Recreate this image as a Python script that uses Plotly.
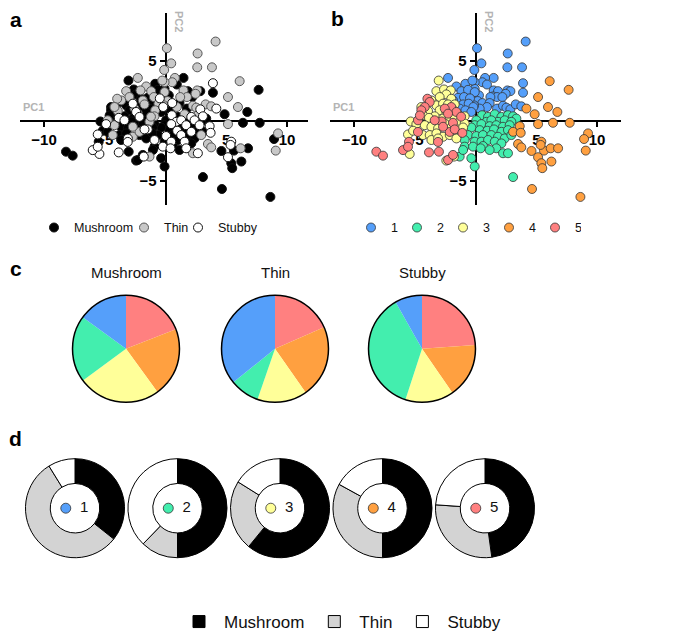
import plotly.graph_objects as go

# ---------------- scatter data (PCA scores) per cluster ----------------
c1_pc1 = [4.12, 0.11, 2.64, 0.47, 2.61, 3.82, -0.11, 3.90, 1.48, 0.77, 0.55, 0.93, -0.08, 3.90, 1.48, 1.84, 2.61, 2.86,
          2.47, 1.43, 1.76, 2.20, 1.21, 0.27, 0.16, 0.55, 1.15, 0.93, 0.33, 1.76, 2.25, 2.53, 2.86, 3.30, 3.76, -0.08,
          -0.14, -2.28, -1.59, -0.85, -0.27, -1.18, -0.63, -0.08, -1.46, -0.96, -0.47, -1.87, -1.04, -0.58, -0.19,
          -1.32, -0.85, -0.36]
c1_pc2 = [6.59, 6.04, 5.60, 4.78, 4.45, 4.45, 4.23, 3.13, 3.57, 3.57, 3.21, 3.02, 3.21, 2.34, 2.53, 2.47, 2.53, 2.47,
          2.25, 2.03, 1.98, 1.98, 1.98, 2.12, 1.65, 1.48, 1.48, 1.15, 1.02, 1.02, 1.26, 1.10, 0.96, 1.37, 1.21, 2.66,
          1.29, 3.57, 2.86, 3.08, 3.35, 2.47, 2.58, 2.39, 1.92, 1.98, 1.87, 1.70, 1.37, 1.43, 1.15, 1.02, 0.88, 0.74]
c1_type = list("TTTTTTT" "SM" "TT" "MTMTMTMTMTMTMT" "SMTMMTTSTTMTTTMTTMTMTSTMTSMTM")

c2_pc1 = [0.52, 1.02, 1.57, 2.12, 2.66, 3.08, 3.35, 0.05, 0.88, 1.84, 2.39, 2.94, 1.29, -0.08, 0.47, 1.15, 1.70, 2.25,
          2.80, 0.33, 0.96, 1.51, 2.12, 2.66, -0.36, -0.63, 0.05, 0.60, 1.29, 1.84, 2.39, 2.94, -0.08, 0.47, 1.02,
          1.57, 2.12, -0.91, -0.91, -0.22, 0.60, 1.70, 2.25, 2.66, -1.32, -1.04, 0.41, 1.15, -0.36, -0.08, 3.08]
c2_pc2 = [0.47, 0.33, 0.55, 0.33, 0.47, 0.38, 0.19, 0.05, -0.08, -0.08, 0.05, -0.08, 0.05, -0.36, -0.27, -0.44, -0.36,
          -0.49, -0.36, -0.77, -0.82, -0.71, -0.91, -0.77, -0.55, -1.18, -1.26, -1.18, -1.18, -1.32, -1.46, -1.18,
          -1.73, -1.73, -1.59, -1.73, -1.87, -1.59, -2.14, -2.14, -2.09, -2.28, -2.69, -2.69, -2.97, -2.42, -2.28,
          -2.42, -3.10, -3.79, -4.67]
c2_type = list("SMTSTSM" "MSMSMSMSMSMSMSMSM" "MMSMSMM" "TMSMSMSMSMSTS" "TMSMMMM")

c3_pc1 = [-3.05, -3.24, -2.61, -2.06, -2.42, -2.97, -2.01, -3.65, -3.24, -2.69, -2.28, -1.73, -4.48, -3.93, -2.97,
          -2.42, -1.87, -1.46, -0.91, -5.36, -3.38, -4.34, -3.85, -2.69, -2.14, -1.73, -1.32, -0.91, -4.89, -4.20,
          -3.65, -3.10, -2.55, -2.01, -1.46, -1.04, -5.58, -5.16, -4.34, -3.79, -3.24, -2.69, -2.14, -1.59, -3.65,
          -3.10, -5.44, -2.42, -1.79]
c3_pc2 = [3.35, 2.47, 2.61, 2.53, 2.20, 1.98, 1.84, 1.70, 1.29, 1.43, 1.37, 1.37, 1.15, 0.82, 0.88, 0.74, 0.93, 0.55,
          0.38, -0.05, 0.38, 0.47, 0.25, 0.19, 0.33, 0.19, -0.08, -0.22, -0.27, -0.36, -0.49, -0.63, -0.22, -0.55,
          -0.71, -0.55, -1.13, -0.82, -1.18, -1.18, -1.04, -1.32, -1.18, -1.46, -1.59, -1.46, -2.75, -3.30, -2.97]
c3_type = list("MTMTMTMTMS" "MTMTMSMMTM" "MMSMSMTMST" "MMMMSMSMTM" "MTMMMSSMS")

c4_pc1 = [6.10, 7.66, 5.14, 5.96, 4.18, 4.86, 6.73, 5.14, 6.37, 7.75, 3.63, 3.08, 3.71, 9.26, 8.93, 9.07, 3.49, 3.76,
          5.41, 5.63, 6.18, 6.79, 5.14, 5.41, 6.24, 5.49, 4.64, 8.63, 4.60, 5.35]
c4_pc2 = [3.30, 2.58, 1.98, 1.15, 1.02, 0.55, 0.74, -0.27, -0.16, -0.16, -0.44, -0.91, -0.99, -1.04, -1.51, -2.47,
          -1.92, -2.20, -1.73, -2.47, -2.28, -2.28, -3.02, -3.52, -3.38, -3.93, -5.66, -6.32, -2.50, -2.00]
c4_type = list("TMTTSMMTMM" "SMSTMTTTSM" "TMSMMMMMMS")

c5_pc1 = [-8.19, -7.64, -5.99, -5.50, -5.58, -4.76, -3.11, -3.85, -3.03, -2.28, -2.14, -2.80, -4.76, -3.98, -3.79,
          -4.20, -2.01, -2.55, -1.59, -4.48, -2.28, -3.38, -1.87, -2.69, -1.73, -1.87, -4.60, -1.20, -1.10]
c5_pc2 = [-2.56, -2.89, -2.43, -1.74, -2.15, -0.92, -1.75, -2.62, -2.56, -3.25, -0.92, -0.05, 0.05, 1.84, 1.57, 1.15,
          1.15, 1.02, 0.74, 0.88, 0.60, 0.05, -0.16, -0.49, -0.71, -2.83, 0.45, 0.35, -1.00]
c5_type = list("MMSMSMSSMM" "TMTTMTMTMM" "TSMTSMMTM")

clusters = ["1", "2", "3", "4", "5"]
cluster_pc1 = [c1_pc1, c2_pc1, c3_pc1, c4_pc1, c5_pc1]
cluster_pc2 = [c1_pc2, c2_pc2, c3_pc2, c4_pc2, c5_pc2]
cluster_type = [c1_type, c2_type, c3_type, c4_type, c5_type]
for a, b, c in zip(cluster_pc1, cluster_pc2, cluster_type):
    assert len(a) == len(b) == len(c), (len(a), len(b), len(c))

cluster_colors = ["#559FFA", "#43EEAE", "#FFFF99", "#FFA040", "#FF8080"]
spine_names = ["Mushroom", "Thin", "Stubby"]
spine_codes = ["M", "T", "S"]
spine_colors = ["#000000", "#C8C8C8", "#FFFFFF"]

# ---------------- pie data (c): share of each cluster, order 5,4,3,2,1 clockwise ----------------
pie_labels = ["5", "4", "3", "2", "1"]
pie_colors = ["#FF8080", "#FFA040", "#FFFF99", "#43EEAE", "#559FFA"]
pie_mushroom = [19.1, 20.9, 24.9, 20.1, 15.0]
pie_thin = [18.4, 21.9, 15.0, 8.9, 35.8]
pie_stubby = [23.9, 16.5, 14.6, 36.8, 8.2]
pie_titles = ["Mushroom", "Thin", "Stubby"]

# ---------------- donut data (d): spine type share per cluster ----------------
donut_labels = ["Mushroom", "Thin", "Stubby"]
donut_colors = ["#000000", "#D3D3D3", "#FFFFFF"]
donut_c1 = [35.7, 55.5, 8.8]
donut_c2 = [50.0, 12.2, 37.8]
donut_c3 = [60.9, 23.0, 16.1]
donut_c4 = [50.0, 33.0, 17.0]
donut_c5 = [47.8, 28.3, 23.9]

# ---------------- helpers ----------------
W, H = 685, 632
FONT = "Liberation Sans, Arial, sans-serif"


def px(x):
    return x / W


def py(y):
    return 1 - y / H


fig = go.Figure()

# panel a
all_pc1 = sum(cluster_pc1, [])
all_pc2 = sum(cluster_pc2, [])
all_type = sum(cluster_type, [])
legend_a_widths = [45, 9, 0]
for name, code, col, lw in zip(spine_names, spine_codes, spine_colors, legend_a_widths):
    xs = [x for x, t in zip(all_pc1, all_type) if t == code]
    ys = [y for y, t in zip(all_pc2, all_type) if t == code]
    fig.add_trace(go.Scatter(
        x=xs, y=ys, mode="markers", name=name, legend="legend", legendwidth=lw,
        marker=dict(size=9, color=col, line=dict(color="#111111" if code != "T" else "#555555", width=1)),
        xaxis="x", yaxis="y", cliponaxis=False))

# panel b
for name, xs, ys, col in zip(clusters, cluster_pc1, cluster_pc2, cluster_colors):
    fig.add_trace(go.Scatter(
        x=xs, y=ys, mode="markers", name=name, legend="legend2", legendwidth=1,
        marker=dict(size=9, color=col, line=dict(color="#333333", width=0.8)),
        xaxis="x2", yaxis="y2", cliponaxis=False))

# panel c pies
pie_cx = [118, 267, 414]
pie_cy = 344
pie_d = 108
for vals, cx in zip([pie_mushroom, pie_thin, pie_stubby], pie_cx):
    dom = dict(x=[px(cx - pie_d / 2), px(cx + pie_d / 2)], y=[py(pie_cy + pie_d / 2), py(pie_cy - pie_d / 2)])
    fig.add_trace(go.Pie(
        values=vals, labels=pie_labels, sort=False, direction="clockwise", rotation=0,
        marker=dict(colors=pie_colors, line=dict(width=0)), textinfo="none", hoverinfo="label+percent",
        showlegend=False, domain=dom))
    fig.add_trace(go.Pie(
        values=[1], labels=["outline"], sort=False, marker=dict(colors=["rgba(0,0,0,0)"],
                                                               line=dict(color="black", width=1.5)),
        textinfo="none", hoverinfo="skip", showlegend=False, domain=dom))

for t, cx in zip(pie_titles, pie_cx):
    fig.add_annotation(text=t, x=px(cx), y=py(267), xref="paper", yref="paper", showarrow=False,
                       font=dict(family=FONT, size=15, color="#111111"), xanchor="center", yanchor="middle")

# panel d donuts
donut_cy = 505
donut_d = 100
donut_step = 102.5
donut_x0 = 67
for i, vals in enumerate([donut_c1, donut_c2, donut_c3, donut_c4, donut_c5]):
    cx = donut_x0 + i * donut_step
    fig.add_trace(go.Pie(
        values=vals, labels=donut_labels, sort=False, direction="clockwise", rotation=0, hole=0.5,
        marker=dict(colors=donut_colors, line=dict(color="black", width=1)), textinfo="none",
        legend="legend3", showlegend=True,
        domain=dict(x=[px(cx - donut_d / 2), px(cx + donut_d / 2)],
                    y=[py(donut_cy + donut_d / 2), py(donut_cy - donut_d / 2)])))

cluster_idx = [1, 2, 3, 4, 5]
fig.add_trace(go.Scatter(
    x=[k - 0.09 for k in cluster_idx], y=[0] * 5, mode="markers",
    marker=dict(size=10, color=cluster_colors, line=dict(color="#333333", width=0.8)),
    xaxis="x3", yaxis="y3", showlegend=False, hoverinfo="skip"))
fig.add_trace(go.Scatter(
    x=[k + 0.09 for k in cluster_idx], y=[0] * 5, mode="text", text=clusters,
    textfont=dict(family=FONT, size=15, color="#111111"),
    xaxis="x3", yaxis="y3", showlegend=False, hoverinfo="skip"))

# ---------------- axes ----------------
tickfont = dict(family=FONT, size=15, color="black", weight="bold")
axis_common = dict(showline=True, linecolor="black", linewidth=2, ticks="outside", ticklen=5, tickwidth=2,
                   tickcolor="black", showgrid=False, zeroline=False, tickfont=tickfont, layer="below traces",
                   fixedrange=True, anchor="free")
y_dom = [py(199), py(4.6)]
y_zero = py(114)
fig.update_layout(
    xaxis=dict(domain=[px(11.7), px(299.7)], range=[-12, 11.7], tickvals=[-10, -5, 5, 10], position=y_zero,
               **axis_common),
    yaxis=dict(domain=y_dom, range=[-7, 9], tickvals=[-5, 5], position=px(157.5), **axis_common),
    xaxis2=dict(domain=[px(322.1), px(613.3)], range=[-12, 12], tickvals=[-10, -5, 5, 10], position=y_zero,
                **axis_common),
    yaxis2=dict(domain=y_dom, range=[-7, 9], tickvals=[-5, 5], position=px(467.7), **axis_common),
    xaxis3=dict(domain=[px(donut_x0 - donut_step / 2), px(donut_x0 + 4.5 * donut_step)], range=[0.5, 5.5],
                visible=False, fixedrange=True),
    yaxis3=dict(domain=[py(donut_cy + 15), py(donut_cy - 15)], range=[-1, 1], visible=False, fixedrange=True,
                anchor="x3"),
)
fig.layout.xaxis3.anchor = "y3"

# axis titles
axis_title_font = dict(family=FONT, size=11, color="#B4B4B4", weight="bold")
for x0, yax_x in [(12.5, 171), (323, 481)]:
    fig.add_annotation(text="PC1", x=px(x0), y=py(100), xref="paper", yref="paper", showarrow=False,
                       xanchor="left", yanchor="middle", font=axis_title_font)
    fig.add_annotation(text="PC2", x=px(yax_x), y=py(13), xref="paper", yref="paper", showarrow=False,
                       textangle=90, xanchor="center", yanchor="middle", font=axis_title_font)

# panel letters
for t, x, y in [("a", 8, 12), ("b", 329, 11), ("c", 8, 263), ("d", 8, 435)]:
    fig.add_annotation(text=t, x=px(x), y=py(y), xref="paper", yref="paper", showarrow=False,
                       xanchor="center", yanchor="middle",
                       font=dict(family=FONT, size=21, color="black", weight="bold"))

legend_font = dict(family=FONT, size=12.5, color="#111111")
fig.update_layout(
    width=W, height=H, margin=dict(l=0, r=0, t=0, b=0),
    paper_bgcolor="white", plot_bgcolor="white",
    legend=dict(orientation="h", x=px(26), y=py(222), xanchor="left", yanchor="middle", font=legend_font,
                bgcolor="rgba(0,0,0,0)", itemwidth=30, tracegroupgap=0),
    legend2=dict(orientation="h", x=px(343), y=py(222), xanchor="left", yanchor="middle", font=legend_font,
                 bgcolor="rgba(0,0,0,0)", itemwidth=30, tracegroupgap=0),
    legend3=dict(orientation="h", x=px(332), y=py(620), xanchor="center", yanchor="middle",
                 font=dict(family=FONT, size=17, color="#111111"), bgcolor="rgba(0,0,0,0)", itemwidth=40),
    font=dict(family=FONT),
)

fig.write_html("out.html")
